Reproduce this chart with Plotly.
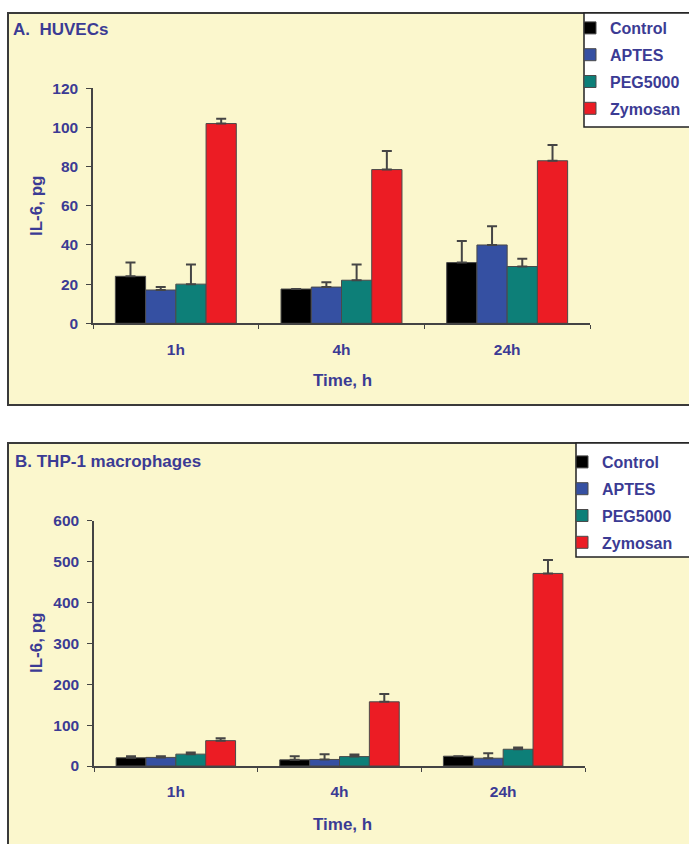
import plotly.graph_objects as go

W, H = 689, 844

# ---- data -------------------------------------------------------------
times = ["1h", "4h", "24h"]
series_names = ["Control", "APTES", "PEG5000", "Zymosan"]
series_colors = ["#000000", "#3550a2", "#0d7f78", "#ec1c24"]

# Panel A: HUVECs, IL-6 (pg), mean and upper error
huvec_control = [24, 17.5, 31]
huvec_control_err = [7, 0, 11]
huvec_aptes = [17, 18.5, 40]
huvec_aptes_err = [1.5, 2.5, 9.5]
huvec_peg = [20, 22, 29]
huvec_peg_err = [10, 8, 4]
huvec_zymosan = [102, 78.5, 83]
huvec_zymosan_err = [2.5, 9.5, 8]

# Panel B: THP-1 macrophages, IL-6 (pg), mean and upper error
thp_control = [20, 15, 24]
thp_control_err = [4, 9, 0]
thp_aptes = [21, 16, 19]
thp_aptes_err = [3, 13, 12]
thp_peg = [29, 23, 41]
thp_peg_err = [4, 5, 4]
thp_zymosan = [62, 157, 471]
thp_zymosan_err = [6, 19, 33]

# ---- styling ----------------------------------------------------------
TXT = "#3b3b94"
FONT = "Liberation Sans, Arial, sans-serif"
PANEL_BG = "#fbf7cd"
AXIS_COL = "#444444"


def px(x):
    return x / W


def py(y):
    return 1 - y / H


fig = go.Figure()

panels = [
    ("A", "x", "y", "legend",
     [huvec_control, huvec_aptes, huvec_peg, huvec_zymosan],
     [huvec_control_err, huvec_aptes_err, huvec_peg_err, huvec_zymosan_err]),
    ("B", "x2", "y2", "legend2",
     [thp_control, thp_aptes, thp_peg, thp_zymosan],
     [thp_control_err, thp_aptes_err, thp_peg_err, thp_zymosan_err]),
]

for tag, xa, ya, leg, means, errs in panels:
    for name, color, m, e in zip(series_names, series_colors, means, errs):
        fig.add_trace(go.Bar(
            x=times, y=m, name=name, xaxis=xa, yaxis=ya, legend=leg,
            legendgroup=f"{tag}-{name}",
            marker=dict(color=color, line=dict(color="#4a4a4a", width=1)),
            error_y=dict(type="data", symmetric=False, array=e,
                         arrayminus=[0] * len(e), color="#454545",
                         thickness=2, width=5),
        ))

# panel frames and legend boxes
shapes = []
for top, bottom, leg_left, leg_bottom in [(13, 405, 584, 127), (443, 860, 576, 557)]:
    shapes.append(dict(type="rect", xref="paper", yref="paper",
                       x0=px(8), x1=px(700), y0=py(bottom), y1=py(top),
                       fillcolor=PANEL_BG, line=dict(color="#3a3a3a", width=2),
                       layer="below"))
    shapes.append(dict(type="rect", xref="paper", yref="paper",
                       x0=px(leg_left), x1=px(700), y0=py(leg_bottom), y1=py(top),
                       fillcolor="#ffffff", line=dict(color="#222222", width=1.5),
                       layer="below"))

tick_font = dict(family=FONT, size=15.5, color=TXT, weight="bold")
xcommon = dict(type="category", tickson="boundaries", ticks="outside", ticklen=4,
               tickcolor=AXIS_COL, showline=True, linecolor=AXIS_COL, linewidth=1.5,
               showgrid=False, tickfont=tick_font, ticklabelstandoff=11,
               range=[-0.5, 2.5], fixedrange=True)
ycommon = dict(ticks="outside", ticklen=5, tickcolor=AXIS_COL, showline=True,
               linecolor=AXIS_COL, linewidth=1.5, showgrid=False, zeroline=False,
               tickfont=tick_font, ticklabelstandoff=5, fixedrange=True)

legend_common = dict(bgcolor="rgba(0,0,0,0)", borderwidth=0, traceorder="grouped",
                     tracegroupgap=3,
                     font=dict(family=FONT, size=16, color=TXT, weight="bold"),
                     xanchor="left", yanchor="top", itemclick=False,
                     itemdoubleclick=False)

annotations = []
for text, x, y in [("A.  HUVECs", 11, 30), ("B. THP-1 macrophages", 13, 461)]:
    annotations.append(dict(text=text, x=px(x), y=py(y), xref="paper", yref="paper",
                            xanchor="left", yanchor="middle", showarrow=False,
                            font=dict(family=FONT, size=17, color=TXT, weight="bold")))
for y in (380, 824):
    annotations.append(dict(text="Time, h", x=px(342), y=py(y), xref="paper", yref="paper",
                            xanchor="center", yanchor="middle", showarrow=False,
                            font=dict(family=FONT, size=17, color=TXT, weight="bold")))
for y in (206, 643):
    annotations.append(dict(text="IL-6, pg", x=px(36), y=py(y), xref="paper", yref="paper",
                            xanchor="center", yanchor="middle", showarrow=False, textangle=-90,
                            font=dict(family=FONT, size=17, color=TXT, weight="bold")))

fig.update_layout(
    width=W, height=H, autosize=False,
    margin=dict(l=0, r=0, t=0, b=0, autoexpand=False),
    paper_bgcolor="#ffffff", plot_bgcolor="rgba(0,0,0,0)",
    barmode="group", bargap=0.27, bargroupgap=0,
    xaxis=dict(domain=[px(93), px(590)], anchor="y", **xcommon),
    yaxis=dict(domain=[py(323.3), py(88.3)], anchor="x", range=[0, 120], dtick=20, **ycommon),
    xaxis2=dict(domain=[px(94), px(585)], anchor="y2", **xcommon),
    yaxis2=dict(domain=[py(766), py(520.7)], anchor="x2", range=[0, 600], dtick=100, **ycommon),
    legend=dict(x=px(570), y=py(11), **legend_common),
    legend2=dict(x=px(562), y=py(445), **legend_common),
    shapes=shapes,
    annotations=annotations,
    showlegend=True,
)

fig.write_html("out.html")
